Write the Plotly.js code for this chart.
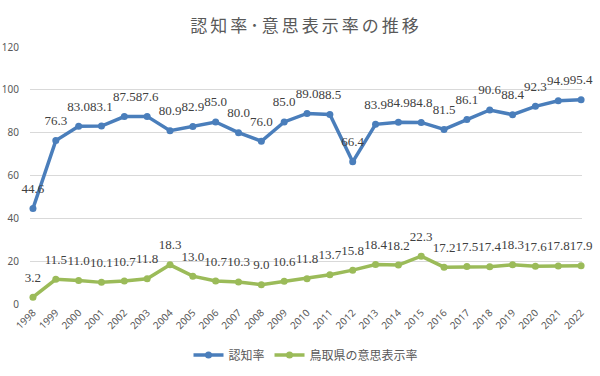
<!DOCTYPE html>
<html>
<head>
<meta charset="utf-8">
<script src="https://cdn.plot.ly/plotly-3.0.1.min.js"></script>
<style>html,body{margin:0;padding:0;background:#fff;}#chart{width:600px;height:376px;}
.gtitle{letter-spacing:3px;}</style>
</head>
<body>
<div id="chart"></div>
<script>
const years = ['1998','1999','2000','2001','2002','2003','2004','2005','2006','2007','2008','2009','2010','2011','2012','2013','2014','2015','2016','2017','2018','2019','2020','2021','2022'];
const ninchi = [44.6,76.3,83.0,83.1,87.5,87.6,80.9,82.9,85.0,80.0,76.0,85.0,89.0,88.5,66.4,83.9,84.9,84.8,81.5,86.1,90.6,88.4,92.3,94.9,95.4];
const ishi = [3.2,11.5,11.0,10.1,10.7,11.8,18.3,13.0,10.7,10.3,9.0,10.6,11.8,13.7,15.8,18.4,18.2,22.3,17.2,17.5,17.4,18.3,17.6,17.8,17.9];
const seriesNames = ['認知率','鳥取県の意思表示率'];
const titleText = '認知率･意思表示率の推移';

const labelFont = {family:'Liberation Serif, serif', size:13, color:'#404040'};
function mk(y, name, color){
  return {
    x: years, y: y, name: name, type:'scatter', mode:'lines+markers',
    line:{color:color, width:3.5}, marker:{color:color, size:7},
    cliponaxis:false
  };
}
function lbl(y){
  return {
    x: years, y: y, type:'scatter', mode:'markers+text', showlegend:false, hoverinfo:'skip',
    text: y.map(v=>v.toFixed(1)), textposition:'top center', textfont: labelFont,
    marker:{size:18, opacity:0, color:'#fff'}, cliponaxis:false
  };
}
const data = [mk(ninchi, seriesNames[0], '#4A7EBB'), mk(ishi, seriesNames[1], '#9BBB59'), lbl(ninchi), lbl(ishi)];
const layout = {
  width:600, height:376,
  margin:{l:30, r:18, t:47, b:72, autoexpand:false},
  paper_bgcolor:'#fff', plot_bgcolor:'#fff',
  title:{text:titleText, x:0.5, xanchor:'center', xref:'paper', y:0.932, yanchor:'middle', font:{family:'Noto Sans CJK JP, sans-serif', size:17, color:'#595959'}},
  xaxis:{type:'category', range:[-0.13, 24.04], tickangle:-45, showgrid:false, zeroline:false, showline:false,
    tickfont:{family:'Noto Sans, sans-serif', size:10, color:'#595959'}, ticks:'', automargin:false},
  yaxis:{range:[0,120], dtick:20, showgrid:true, gridcolor:'#d9d9d9', gridwidth:1, zeroline:false, showline:false,
    tickfont:{family:'Noto Sans, sans-serif', size:10, color:'#595959'}, ticks:'', ticklabelstandoff:10, automargin:false},
  legend:{orientation:'h', x:0.5, xanchor:'center', yref:'container', y:0.056, yanchor:'middle', font:{family:'Noto Sans CJK JP, sans-serif', size:12, color:'#595959'}},
  showlegend:true
};
Plotly.newPlot('chart', data, layout, {displayModeBar:false, staticPlot:true});
</script>
</body>
</html>
